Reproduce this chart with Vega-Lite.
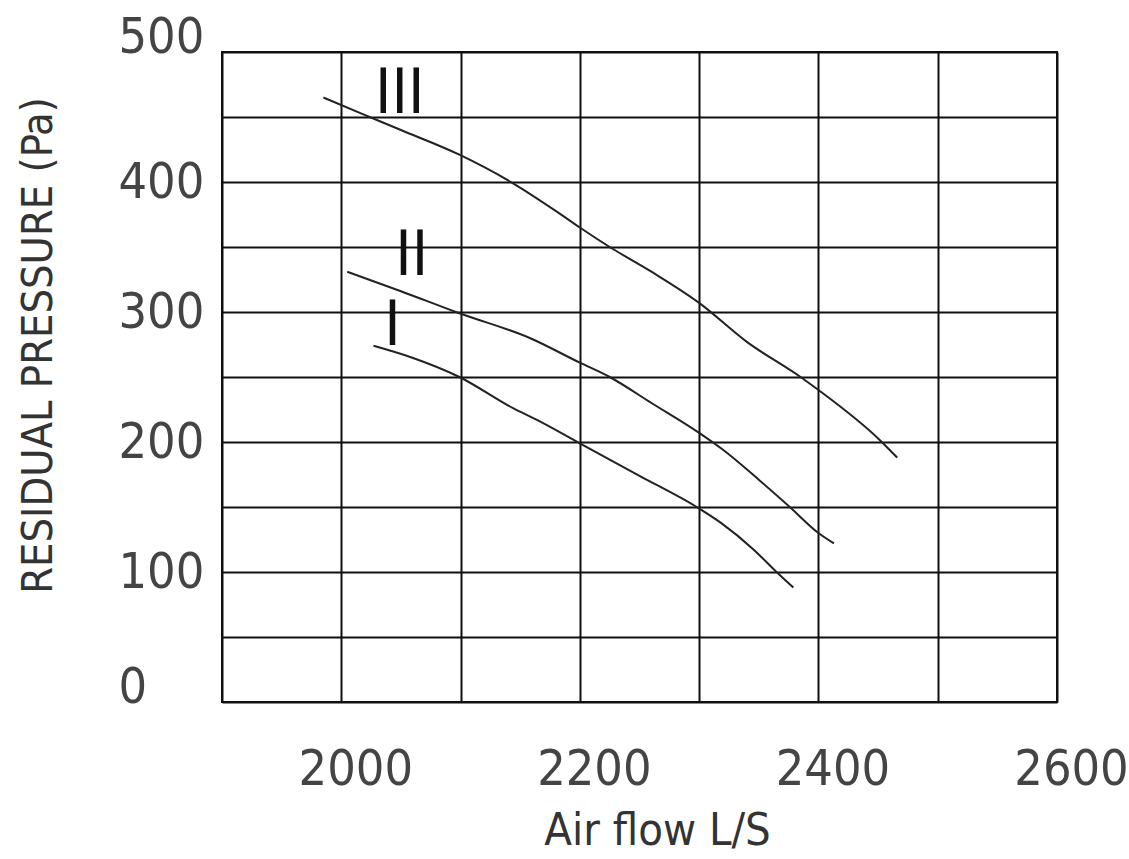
{
  "$schema": "https://vega.github.io/schema/vega-lite/v6.json",
  "autosize": "none",
  "width": 835,
  "height": 650,
  "padding": {"left": 222, "top": 52, "right": 72, "bottom": 157},
  "background": "white",
  "config": {
    "view": {"stroke": "#111", "strokeWidth": 2},
    "font": "DejaVu Sans Condensed, DejaVu Sans"
  },
  "datasets": {
    "curves": [
      {"airflow": 1985, "pressure": 465, "speed": "III"},
      {"airflow": 2016, "pressure": 453, "speed": "III"},
      {"airflow": 2050, "pressure": 440, "speed": "III"},
      {"airflow": 2099, "pressure": 421, "speed": "III"},
      {"airflow": 2144, "pressure": 399, "speed": "III"},
      {"airflow": 2181, "pressure": 377, "speed": "III"},
      {"airflow": 2200, "pressure": 365, "speed": "III"},
      {"airflow": 2225, "pressure": 350, "speed": "III"},
      {"airflow": 2260, "pressure": 331, "speed": "III"},
      {"airflow": 2300, "pressure": 307, "speed": "III"},
      {"airflow": 2340, "pressure": 277, "speed": "III"},
      {"airflow": 2385, "pressure": 250, "speed": "III"},
      {"airflow": 2400, "pressure": 240, "speed": "III"},
      {"airflow": 2452, "pressure": 201, "speed": "III"},
      {"airflow": 2466, "pressure": 188, "speed": "III"},
      {"airflow": 2005, "pressure": 331, "speed": "II"},
      {"airflow": 2050, "pressure": 316, "speed": "II"},
      {"airflow": 2099, "pressure": 299, "speed": "II"},
      {"airflow": 2158, "pressure": 280, "speed": "II"},
      {"airflow": 2200, "pressure": 261, "speed": "II"},
      {"airflow": 2225, "pressure": 250, "speed": "II"},
      {"airflow": 2260, "pressure": 230, "speed": "II"},
      {"airflow": 2300, "pressure": 207, "speed": "II"},
      {"airflow": 2320, "pressure": 194, "speed": "II"},
      {"airflow": 2350, "pressure": 171, "speed": "II"},
      {"airflow": 2376, "pressure": 150, "speed": "II"},
      {"airflow": 2400, "pressure": 130, "speed": "II"},
      {"airflow": 2413, "pressure": 122, "speed": "II"},
      {"airflow": 2027, "pressure": 274, "speed": "I"},
      {"airflow": 2059, "pressure": 265, "speed": "I"},
      {"airflow": 2099, "pressure": 250, "speed": "I"},
      {"airflow": 2144, "pressure": 226, "speed": "I"},
      {"airflow": 2164, "pressure": 217, "speed": "I"},
      {"airflow": 2200, "pressure": 199, "speed": "I"},
      {"airflow": 2250, "pressure": 174, "speed": "I"},
      {"airflow": 2298, "pressure": 150, "speed": "I"},
      {"airflow": 2318, "pressure": 138, "speed": "I"},
      {"airflow": 2346, "pressure": 117, "speed": "I"},
      {"airflow": 2366, "pressure": 99, "speed": "I"},
      {"airflow": 2379, "pressure": 88, "speed": "I"}
    ],
    "labels": [
      {"airflow": 2049, "pressure": 468, "speed": "III"},
      {"airflow": 2059, "pressure": 343, "speed": "II"},
      {"airflow": 2043, "pressure": 289, "speed": "I"}
    ]
  },
  "layer": [
    {
      "data": {"name": "curves"},
      "mark": {"type": "line", "interpolate": "monotone", "stroke": "#222", "strokeWidth": 2},
      "encoding": {
        "x": {
          "field": "airflow", "type": "quantitative",
          "scale": {"domain": [1900, 2600], "nice": false, "zero": false},
          "axis": {
            "values": [1900, 2000, 2100, 2200, 2300, 2400, 2500, 2600],
            "format": "d",
            "labelExpr": "datum.value % 200 == 0 ? datum.label : ''",
            "grid": true, "gridColor": "#111", "gridWidth": 2, "gridOpacity": 1,
            "domain": false, "ticks": false, "tickSize": 0,
            "labelFontSize": 50, "labelColor": "#444", "labelFlush": false,
            "labelPadding": 42, "labelOffset": 14,
            "title": "Air flow  L/S",
            "titleFontSize": 45, "titleFontWeight": "normal", "titleColor": "#333",
            "titleX": 435, "titleY": 128, "titleBaseline": "middle", "titleAlign": "center"
          }
        },
        "y": {
          "field": "pressure", "type": "quantitative",
          "scale": {"domain": [0, 500], "nice": false},
          "axis": {
            "values": [0, 50, 100, 150, 200, 250, 300, 350, 400, 450, 500],
            "labelExpr": "datum.value % 100 == 0 ? datum.label : ''",
            "grid": true, "gridColor": "#111", "gridWidth": 2, "gridOpacity": 1,
            "domain": false, "ticks": false, "tickSize": 0,
            "labelFontSize": 50, "labelColor": "#444", "labelFlush": false,
            "labelAlign": "left",
            "labelBaseline": {"condition": {"test": "datum.value == 0 || datum.value == 500", "value": "alphabetic"}, "value": "middle"},
            "labelPadding": 104,
            "title": "RESIDUAL PRESSURE (Pa)",
            "titleFontSize": 43, "titleFontWeight": "normal", "titleColor": "#333",
            "titleX": -184, "titleY": 293, "titleBaseline": "middle", "titleAlign": "center", "titleAngle": -90
          }
        },
        "detail": {"field": "speed"}
      }
    },
    {
      "data": {"name": "labels"},
      "mark": {"type": "text", "fontSize": 62, "baseline": "middle", "align": "center", "color": "#111"},
      "encoding": {
        "x": {"field": "airflow", "type": "quantitative"},
        "y": {"field": "pressure", "type": "quantitative"},
        "text": {"field": "speed"}
      }
    }
  ]
}
